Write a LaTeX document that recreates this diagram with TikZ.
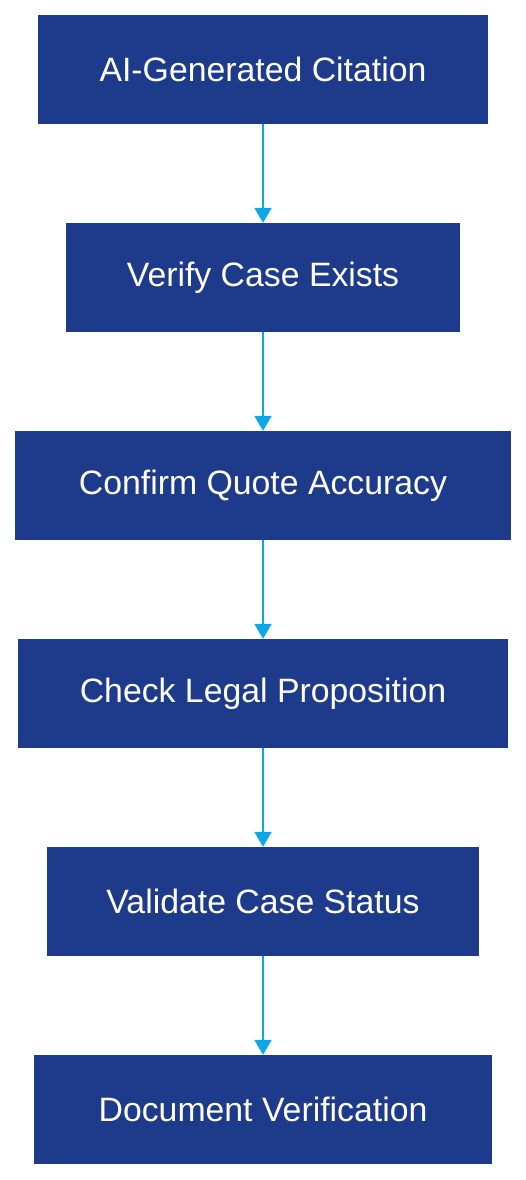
\documentclass[tikz,border=0pt]{standalone}
\usepackage{fontspec}
\setmainfont{Liberation Sans}
\usetikzlibrary{arrows.meta}
\definecolor{boxblue}{HTML}{1E3A8A}
\definecolor{arrowblue}{HTML}{0EA5E9}
\begin{document}
\begin{tikzpicture}[x=1pt,y=-1pt,
  stepbox/.style={fill=boxblue, draw=none, text=white, minimum height=109pt, inner sep=0pt, font=\fontsize{33.8}{38}\selectfont},
  flow/.style={draw=arrowblue, line width=2pt, -{Triangle[width=17pt,length=15pt]}}]
\useasboundingbox (0,0) rectangle (526,1180);
\node[stepbox, minimum width=450pt] (n1) at (263,69.5) {AI-Generated Citation};
\node[stepbox, minimum width=394pt] (n2) at (263,277.5) {Verify Case Exists};
\node[stepbox, minimum width=496pt] (n3) at (263,485.5) {Confirm Quote Accuracy};
\node[stepbox, minimum width=490pt] (n4) at (263,693.5) {Check Legal Proposition};
\node[stepbox, minimum width=432pt] (n5) at (263,901.5) {Validate Case Status};
\node[stepbox, minimum width=458pt] (n6) at (263,1109.5) {Document Verification};
\draw[flow] (n1) -- (n2);
\draw[flow] (n2) -- (n3);
\draw[flow] (n3) -- (n4);
\draw[flow] (n4) -- (n5);
\draw[flow] (n5) -- (n6);
\end{tikzpicture}
\end{document}
